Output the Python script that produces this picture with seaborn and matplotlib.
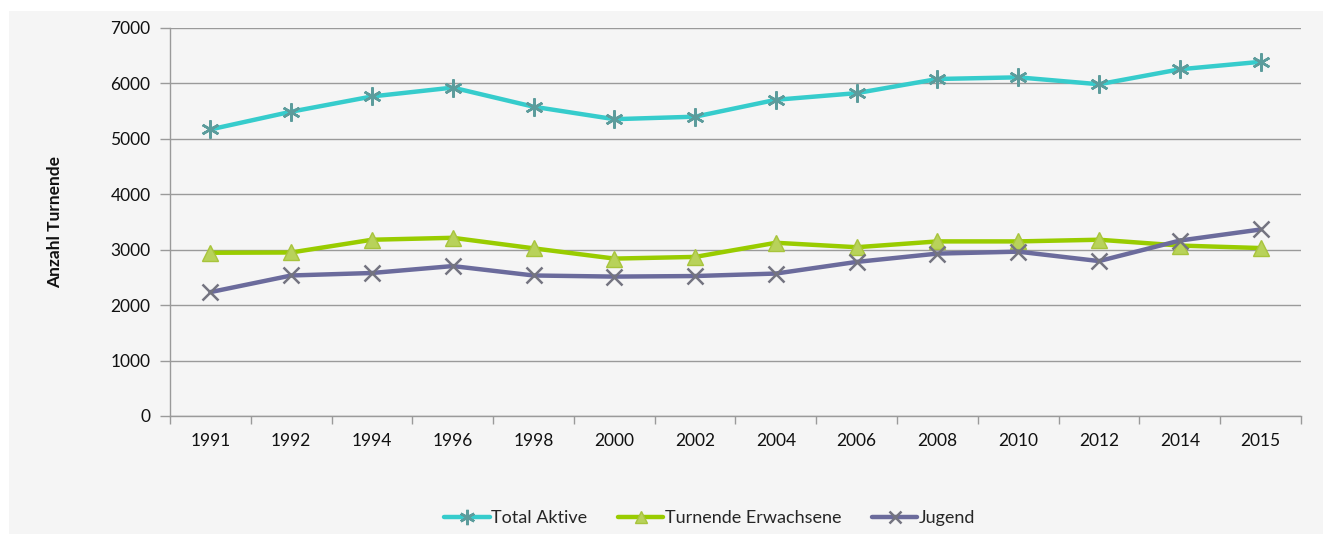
import matplotlib
matplotlib.use("Agg")
import matplotlib.pyplot as plt
from matplotlib.patches import Rectangle
from matplotlib.lines import Line2D
from matplotlib.ticker import FixedLocator, NullFormatter
import seaborn as sns
import pandas as pd
import numpy as np

years = ["1991", "1992", "1994", "1996", "1998", "2000", "2002",
         "2004", "2006", "2008", "2010", "2012", "2014", "2015"]
total_aktive = [5170, 5490, 5765, 5925, 5580, 5355, 5400,
                5705, 5825, 6080, 6110, 5985, 6255, 6390]
turnende_erwachsene = [2945, 2950, 3180, 3215, 3025, 2840, 2870,
                       3125, 3045, 3150, 3150, 3180, 3075, 3030]
jugend = [2235, 2535, 2580, 2705, 2535, 2515, 2525,
          2570, 2780, 2930, 2965, 2795, 3165, 3365]

series_names = ["Total Aktive", "Turnende Erwachsene", "Jugend"]
series_values = [total_aktive, turnende_erwachsene, jugend]

sns.set_theme(style="white")
plt.rcParams["font.family"] = ["Lato", "DejaVu Sans"]

panel = "#f5f5f5"
grid_c = "#9a9a9a"

styles = {
    "Total Aktive": dict(color="#36cccc", marker=(6, 2, 0), ms=13,
                         mec="#5c9c9c", mfc="#5c9c9c", mew=1.8),
    "Turnende Erwachsene": dict(color="#99cc00", marker="^", ms=11,
                                mec="#a8c43c", mfc="#b8d25a", mew=1.0),
    "Jugend": dict(color="#6b6b9c", marker="x", ms=11,
                   mec="#747480", mfc="#747480", mew=1.8),
}

df = pd.DataFrame({
    "pos": np.tile(np.arange(len(years)), len(series_names)),
    "Jahr": years * len(series_names),
    "Anzahl": sum(series_values, []),
    "Serie": np.repeat(series_names, len(years)),
})

fig = plt.figure(figsize=(13.23, 5.34), dpi=100, facecolor="white")
fig.patches.append(Rectangle((9 / 1323, 0), 1 - 9 / 1323, 1 - 11 / 534,
                             transform=fig.transFigure, facecolor=panel,
                             edgecolor="none", zorder=-10))
ax = fig.add_axes([170 / 1323, 1 - 416 / 534, 1131 / 1323, 388 / 534])
ax.set_facecolor(panel)

for name in series_names:
    st = styles[name]
    sub = df[df["Serie"] == name]
    sns.lineplot(data=sub, x="pos", y="Anzahl", ax=ax, color=st["color"],
                 linewidth=3.2, marker=st["marker"], markersize=st["ms"],
                 markeredgecolor=st["mec"], markerfacecolor=st["mfc"],
                 markeredgewidth=st["mew"], legend=False, zorder=3)

ax.set_xlim(-0.5, len(years) - 0.5)
ax.set_ylim(0, 7000)
ax.set_yticks(range(0, 7001, 1000))
ax.set_xticks(range(len(years)))
ax.set_xticklabels(years)
ax.xaxis.set_minor_locator(FixedLocator(np.arange(-0.5, len(years), 1.0)))
ax.xaxis.set_minor_formatter(NullFormatter())
ax.tick_params(axis="x", which="major", length=0, pad=12, labelsize=12.5,
               labelcolor="#111111")
ax.tick_params(axis="x", which="minor", length=6, width=1, color=grid_c,
               direction="out", bottom=True)
ax.tick_params(axis="y", which="major", length=7, width=1, color=grid_c,
               direction="out", left=True, pad=7, labelsize=12.5,
               labelcolor="#111111")

ax.grid(axis="y", color=grid_c, linewidth=1)
ax.grid(axis="x", visible=False)
for side in ["top", "right"]:
    ax.spines[side].set_visible(False)
for side in ["left", "bottom"]:
    ax.spines[side].set_color(grid_c)
    ax.spines[side].set_linewidth(1)

ax.set_xlabel("")
ax.set_ylabel("Anzahl Turnende", fontsize=12.5, fontweight="bold",
              color="#111111", labelpad=34)

handles = []
for name in series_names:
    st = styles[name]
    handles.append(Line2D([0], [0], color=st["color"], linewidth=3.2,
                          marker=st["marker"], markersize=st["ms"] * 0.85,
                          markeredgecolor=st["mec"], markerfacecolor=st["mfc"],
                          markeredgewidth=st["mew"]))
fig.legend(handles, series_names, loc="center", ncol=3,
           bbox_to_anchor=(710 / 1323, 1 - 518 / 534), frameon=False,
           fontsize=13, handlelength=2.5, handletextpad=0.1,
           columnspacing=1.7)

fig.savefig("out.png", dpi=100, facecolor=fig.get_facecolor())
